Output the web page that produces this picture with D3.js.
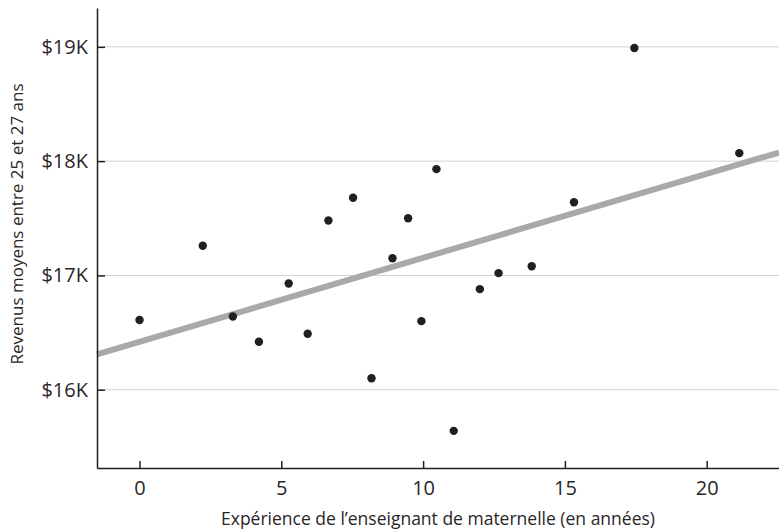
<!DOCTYPE html>
<html>
<head>
<meta charset="utf-8">
<script src="https://cdn.jsdelivr.net/npm/d3@7"></script>
<style>
  body { margin: 0; background: #fff; }
  text { font-family: "Open Sans", Lato, sans-serif; fill: #2a2627; }
</style>
</head>
<body id="body">
<script>
// experience (years) and average earnings (thousands of $)
var experience = [0, 2.23, 3.29, 4.21, 5.26, 5.93, 6.66, 7.53, 8.18, 8.92,
    9.47, 9.94, 10.47, 11.08, 12.0, 12.66, 13.83, 15.32, 17.45, 21.15];
var earnings = [16.61, 17.26, 16.64, 16.42, 16.93, 16.49, 17.48, 17.68, 16.10, 17.15,
    17.50, 16.60, 17.93, 15.64, 16.88, 17.02, 17.08, 17.64, 18.99, 18.07];
var xTicks = [0, 5, 10, 15, 20];
var yTicks = [16, 17, 18, 19];
// fitted line: earnings = intercept + slope * years
var trendIntercept = 16.42;
var trendSlope = 0.0734;

var width = 779,
    height = 531,
    margin = { top: 8, right: 0, bottom: 63, left: 97 };

var x = d3.scaleLinear()
    .domain([-1.5, 22.55])
    .range([margin.left, width - margin.right]);

var y = d3.scaleLinear()
    .domain([15.315, 19.34])
    .range([height - margin.bottom, margin.top]);

var svg = d3.select("body").append("svg")
    .attr("width", width)
    .attr("height", height);

// gridlines
svg.append("g")
    .selectAll("line")
    .data(yTicks)
    .enter().append("line")
    .attr("x1", margin.left)
    .attr("x2", width - margin.right)
    .attr("y1", function (d) { return y(d); })
    .attr("y2", function (d) { return y(d); })
    .attr("stroke", "#d2d2d2")
    .attr("stroke-width", 1);

// trend line
var line = d3.line()
    .x(function (d) { return x(d); })
    .y(function (d) { return y(trendIntercept + trendSlope * d); });

svg.append("path")
    .datum(x.domain())
    .attr("d", line)
    .attr("fill", "none")
    .attr("stroke", "#a9a9ab")
    .attr("stroke-width", 6);

// points
svg.append("g")
    .selectAll("circle")
    .data(experience)
    .enter().append("circle")
    .attr("cx", function (d) { return x(d); })
    .attr("cy", function (d, i) { return y(earnings[i]); })
    .attr("r", 4.2)
    .attr("fill", "#231f20");

// axes
var xAxis = svg.append("g")
    .attr("transform", "translate(0," + (height - margin.bottom) + ")")
    .call(d3.axisBottom(x).tickValues(xTicks).tickSizeInner(-7).tickSizeOuter(0).tickPadding(13));

var yAxis = svg.append("g")
    .attr("transform", "translate(" + margin.left + ",0)")
    .call(d3.axisLeft(y).tickValues(yTicks).tickSizeInner(-8).tickSizeOuter(0).tickPadding(9)
        .tickFormat(function (d) { return "$" + d + "K"; }));

[xAxis, yAxis].forEach(function (a) {
    a.select(".domain").attr("stroke", "#231f20").attr("stroke-width", 1.5);
    a.selectAll(".tick line").attr("stroke", "#231f20").attr("stroke-width", 1.5);
    a.selectAll(".tick text").style("font-size", "20px").attr("fill", "#2a2627");
});

// axis titles
svg.append("text")
    .attr("x", (margin.left + width) / 2)
    .attr("y", 525)
    .attr("text-anchor", "middle")
    .style("font-size", "17.5px")
    .text("Expérience de l’enseignant de maternelle (en années)");

svg.append("text")
    .attr("transform", "translate(23,224) rotate(-90)")
    .attr("text-anchor", "middle")
    .style("font-size", "17px")
    .text("Revenus moyens entre 25 et 27 ans");
</script>
</body>
</html>
